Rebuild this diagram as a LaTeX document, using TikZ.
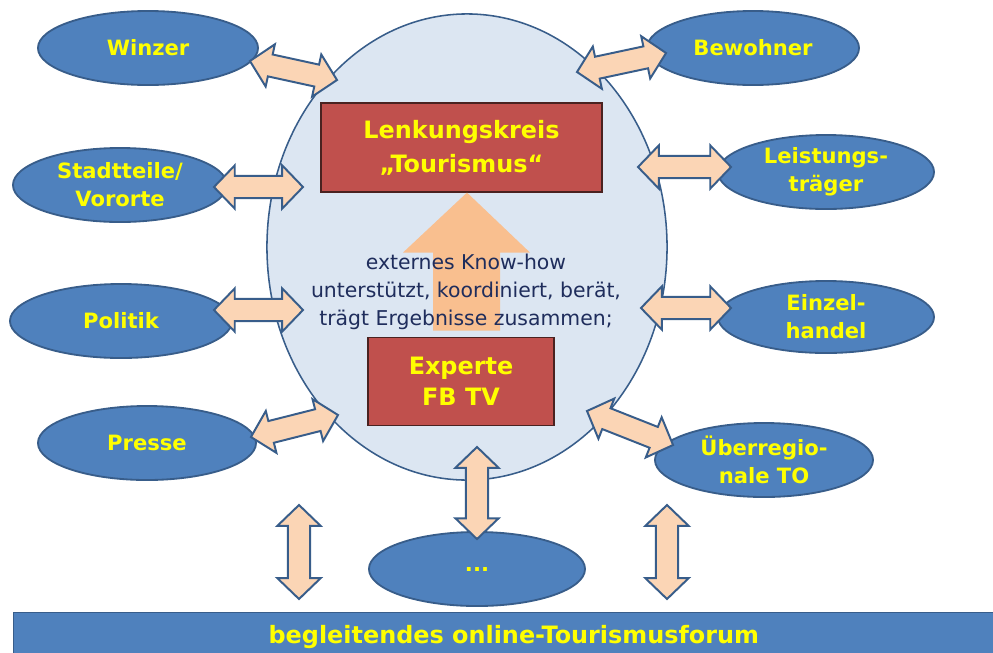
\documentclass[tikz,border=0pt]{standalone}
\usepackage{fontspec}
\setmainfont{DejaVu Sans}
\usepackage{tikz}
\usetikzlibrary{shapes.geometric,calc}

\definecolor{satblue}{HTML}{4F81BD}
\definecolor{satline}{HTML}{385D8A}
\definecolor{hubfill}{HTML}{DCE6F2}
\definecolor{boxred}{HTML}{C0504D}
\definecolor{boxline}{HTML}{4A2220}
\definecolor{linkfill}{HTML}{FBD5B5}
\definecolor{bigfill}{HTML}{F9BF8F}
\definecolor{labelyellow}{HTML}{FFFF00}
\definecolor{textnavy}{HTML}{1F2D5C}

% sizes of the fat double arrows
\newcommand{\fathl}{0.52cm}
\newcommand{\fathw}{0.54cm}
\newcommand{\fatsw}{0.28cm}

\newcommand{\fatlink}[2]{%
  \path (#1) coordinate (fla) (#2) coordinate (flb);
  \draw[fatarrow] (fla)
    -- ($(fla)!\fathl!(flb)!\fathw!90:(flb)$)
    -- ($(fla)!\fathl!(flb)!\fatsw!90:(flb)$)
    -- ($(flb)!\fathl!(fla)!\fatsw!-90:(fla)$)
    -- ($(flb)!\fathl!(fla)!\fathw!-90:(fla)$)
    -- (flb)
    -- ($(flb)!\fathl!(fla)!\fathw!90:(fla)$)
    -- ($(flb)!\fathl!(fla)!\fatsw!90:(fla)$)
    -- ($(fla)!\fathl!(flb)!\fatsw!-90:(flb)$)
    -- ($(fla)!\fathl!(flb)!\fathw!-90:(flb)$)
    -- cycle;}

\tikzset{
  sat/.style={ellipse, fill=satblue, draw=satline, line width=1.3pt,
    minimum width=5.45cm, minimum height=1.85cm, inner sep=0pt,
    align=center, text=labelyellow, font=\fontsize{15}{20}\selectfont\bfseries},
  hubstyle/.style={ellipse, fill=hubfill, draw=satline, line width=1.1pt,
    minimum width=10cm, minimum height=11.65cm},
  redbox/.style={rectangle, fill=boxred, draw=boxline, line width=0.8pt,
    inner sep=0pt, align=center, text=labelyellow},
  fatarrow/.style={fill=linkfill, draw=satline, line width=1.4pt, line join=miter},
  forumbar/.style={rectangle, fill=satblue, draw=satline, line width=1pt,
    text=labelyellow, font=\fontsize{17}{20}\selectfont\bfseries},
}

\begin{document}
\begin{tikzpicture}[x=0.025cm, y=-0.025cm]

\useasboundingbox (0,0) rectangle (993,652);

% centre
\node[hubstyle] (hub) at (467,247) {};
\node[redbox, minimum width=7.025cm, minimum height=2.225cm,
  font=\fontsize{17}{24}\selectfont\bfseries] (lenk) at (461.5,147.5) {Lenkungskreis\\„Tourismus“};
\node[redbox, minimum width=4.65cm, minimum height=2.2cm,
  font=\fontsize{17}{22}\selectfont\bfseries] (experte) at (461,381.5) {Experte\\FB TV};
\fill[bigfill] ($(lenk.south)+(5.5,0)$) -- ++(63,60) -- ++(-30,0) -- ++(0,78)
  -- ++(-67,0) -- ++(0,-78) -- ++(-30,0) -- cycle;
\node[text=textnavy, align=center, font=\fontsize{14.5}{20}\selectfont] (knowhow) at (466,292)
  {externes Know-how\\unterstützt, koordiniert, berät,\\trägt Ergebnisse zusammen;};

% partners
\node[sat, minimum width=5.5cm] (winzer) at (148,48) {Winzer};
\node[sat, minimum width=5.35cm] (stadt) at (120,185) {Stadtteile/\\Vororte};
\node[sat, minimum width=5.55cm] (politik) at (121,321) {Politik};
\node[sat] (presse) at (147,443) {Presse};
\node[sat, minimum width=5.3cm] (bewohner) at (753,48) {Bewohner};
\node[sat, minimum width=5.4cm] (leistung) at (826,172) {Leistungs-\\träger};
\node[sat, minimum width=5.4cm, minimum height=1.8cm] (einzel) at (826,317) {Einzel-\\handel};
\node[sat] (ueber) at (764,460) {Überregio-\\nale TO};
\node[sat, minimum width=5.4cm] (dots) at (477,569) {...};

\node[forumbar, anchor=north west, minimum width=25cm, minimum height=1.2cm] (forum) at (13,612)
  {begleitendes online-Tourismusforum};

% links
\fatlink{$(winzer.east)+(-9,13)$}{$(hub.center)+(-130,-167)$}
\fatlink{$(stadt.east)+(-14,2)$}{$(hub.center)+(-164,-60)$}
\fatlink{$(politik.east)+(-19,-11)$}{$(hub.center)+(-164,63)$}
\fatlink{$(presse.east)+(-6,-6)$}{$(hub.center)+(-129,168)$}
\fatlink{$(bewohner.west)+(20,5)$}{$(hub.center)+(110,-175)$}
\fatlink{$(leistung.west)+(14,-5)$}{$(hub.center)+(171,-80)$}
\fatlink{$(einzel.west)+(14,-9)$}{$(hub.center)+(174,61)$}
\fatlink{$(ueber.west)+(19,-15)$}{$(hub.center)+(120,164)$}
\fatlink{$(dots.north)+(0,8)$}{$(hub.center)+(10,200)$}

\coordinate (leftup) at (299,505);
\coordinate (leftdown) at (299,599);
\coordinate (rightup) at (667,505);
\coordinate (rightdown) at (667,599);
\fatlink{leftup}{leftdown}
\fatlink{rightup}{rightdown}

\end{tikzpicture}
\end{document}
